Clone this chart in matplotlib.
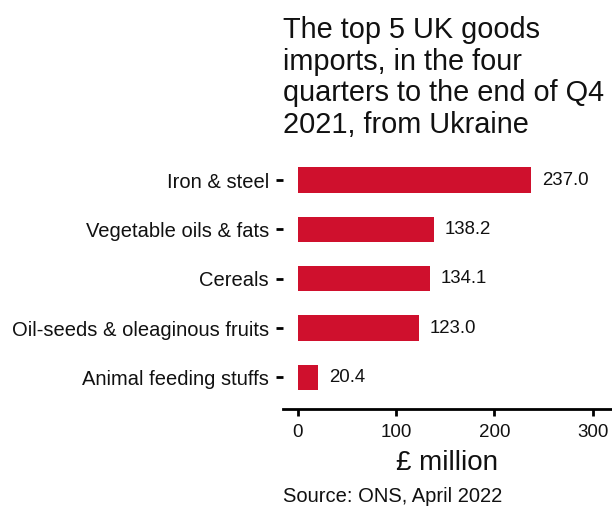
import matplotlib
matplotlib.use("Agg")
import matplotlib.pyplot as plt

categories = ["Animal feeding stuffs", "Oil-seeds & oleaginous fruits", "Cereals",
              "Vegetable oils & fats", "Iron & steel"]
values = [20.4, 123.0, 134.1, 138.2, 237.0]
xticks = [0, 100, 200, 300]

plt.rcParams['font.family'] = ['Liberation Sans', 'DejaVu Sans']

W, H = 612, 507
fig = plt.figure(figsize=(W / 100, H / 100), dpi=100)
left, right = 283 / W, 1.0
bottom, top = 1 - 409 / H, 1 - 150.4 / H
ax = fig.add_axes([left, bottom, right - left, top - bottom])

ypos = list(range(len(categories)))
ax.barh(ypos, values, height=0.51, color="#CF102D")
for y, v in zip(ypos, values):
    ax.text(v + 11.5, y, f"{v:.1f}", va="center", ha="left", fontsize=13.4, color="#111111")

ax.set_xlim(-15, 319.7)
ax.set_ylim(-0.64, 4.6)
ax.set_yticks(ypos)
ax.set_yticklabels(categories, fontsize=14.5, color="#111111")
ax.set_xticks(xticks)
ax.set_xticklabels([str(t) for t in xticks], fontsize=13.5, color="#111111")
for s in ["top", "right", "left"]:
    ax.spines[s].set_visible(False)
ax.spines["bottom"].set_linewidth(2.0)
ax.spines["bottom"].set_color("#000000")
ax.tick_params(axis="y", length=5, width=2.0, pad=5, colors="#000000", labelcolor="#111111")
ax.tick_params(axis="x", length=5, width=2.0, pad=6, colors="#000000", labelcolor="#111111")
ax.set_xlabel("£ million", fontsize=20, labelpad=6, color="#111111")

fig.text(283 / W, 1 - 16 / H,
         "The top 5 UK goods\nimports, in the four\nquarters to the end of Q4\n2021, from Ukraine",
         ha="left", va="top", fontsize=20.8, linespacing=1.17, color="#111111")
fig.text(283 / W, 1 - 502 / H, "Source: ONS, April 2022", ha="left", va="baseline",
         fontsize=14.5, color="#111111")

fig.savefig("out.png", dpi=100)
